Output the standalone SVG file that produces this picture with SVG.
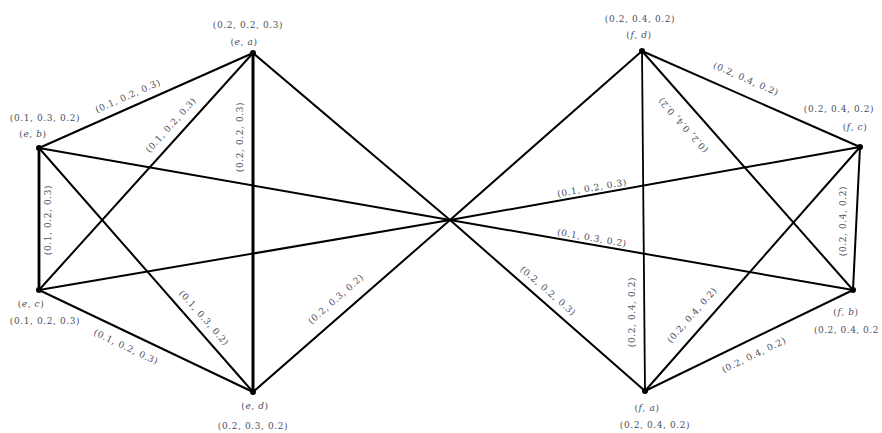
<svg xmlns="http://www.w3.org/2000/svg" width="882" height="433" viewBox="0 0 882 433">
<style>
.e{stroke:#000;stroke-width:2;fill:none;stroke-linejoin:round}
.t{font-family:"DejaVu Serif","Liberation Serif",serif;font-size:9px;fill:#4d4d5c;letter-spacing:0.6px;text-anchor:middle}
.i{font-style:italic}
.d{fill:#000}
</style>
<rect width="882" height="433" fill="#fff"/>
<g id="connectors">
<path class="e" d="M253,53 L39,148"/>
<path class="e" d="M253,53 L39,290"/>
<path class="e" d="M253,53 L253,392" style="stroke-width:3"/>
<path class="e" d="M39,148 L39,290" style="stroke-width:2.8"/>
<path class="e" d="M39,148 L253,392"/>
<path class="e" d="M39,290 L253,392"/>
<path class="e" d="M253,53 L450,220 L645,391"/>
<path class="e" d="M39,148 L450,220 L853,290"/>
<path class="e" d="M39,290 L450,220 L860,147"/>
<path class="e" d="M253,392 L450,220 L642,51"/>
<path class="e" d="M642,51 L860,147"/>
<path class="e" d="M642,51 L645,391" style="stroke-width:1.8"/>
<path class="e" d="M642,51 L853,290"/>
<path class="e" d="M860,147 L853,290"/>
<path class="e" d="M860,147 L645,391"/>
<path class="e" d="M645,391 L853,290"/>
<text class="t" transform="translate(128,96) rotate(-23.9)" y="3">(0.1, 0.2, 0.3)</text>
<text class="t" transform="translate(171,125) rotate(-47.9)" y="3">(0.1, 0.2, 0.3)</text>
<text class="t" transform="translate(240,137) rotate(-90)" y="3">(0.2, 0.2, 0.3)</text>
<text class="t" transform="translate(48,220) rotate(-90)" y="3">(0.1, 0.2, 0.3)</text>
<text class="t" transform="translate(204,318) rotate(48.7)" y="3">(0.1, 0.3, 0.2)</text>
<text class="t" transform="translate(126,347) rotate(25.5)" y="3">(0.1, 0.2, 0.3)</text>
<text class="t" transform="translate(336,299) rotate(-41.2)" y="3">(0.2, 0.3, 0.2)</text>
<text class="t" transform="translate(592,188) rotate(-9.9)" y="3">(0.1, 0.2, 0.3)</text>
<text class="t" transform="translate(592,238) rotate(9.9)" y="3">(0.1, 0.3, 0.2)</text>
<text class="t" transform="translate(548,291) rotate(40.8)" y="3">(0.2, 0.2, 0.3)</text>
<text class="t" transform="translate(746,79) rotate(23.8)" y="3">(0.2, 0.4, 0.2)</text>
<text class="t" transform="translate(683,125) rotate(228.6)" y="3">(0.2, 0.4, 0.2)</text>
<text class="t" transform="translate(843,221) rotate(-90)" y="3">(0.2, 0.4, 0.2)</text>
<text class="t" transform="translate(632,312) rotate(-90)" y="3">(0.2, 0.4, 0.2)</text>
<text class="t" transform="translate(692,315) rotate(-48.6)" y="3">(0.2, 0.4, 0.2)</text>
<text class="t" transform="translate(754,355) rotate(-25.9)" y="3">(0.2, 0.4, 0.2)</text>
</g>
<g id="node-ea">
<circle class="d" cx="253" cy="53" r="3"/>
<text class="t" x="248" y="28">(0.2, 0.2, 0.3)</text>
<text class="t" x="244" y="45">(<tspan class="i">e</tspan>, <tspan class="i">a</tspan>)</text>
</g>
<g id="node-eb">
<circle class="d" cx="39" cy="148" r="3"/>
<text class="t" x="45" y="121">(0.1, 0.3, 0.2)</text>
<text class="t" x="33" y="137">(<tspan class="i">e</tspan>, <tspan class="i">b</tspan>)</text>
</g>
<g id="node-ec">
<circle class="d" cx="39" cy="290" r="3"/>
<text class="t" x="31" y="307">(<tspan class="i">e</tspan>, <tspan class="i">c</tspan>)</text>
<text class="t" x="45" y="324">(0.1, 0.2, 0.3)</text>
</g>
<g id="node-ed">
<circle class="d" cx="253" cy="392" r="3"/>
<text class="t" x="255" y="409">(<tspan class="i">e</tspan>, <tspan class="i">d</tspan>)</text>
<text class="t" x="253" y="429">(0.2, 0.3, 0.2)</text>
</g>
<g id="node-fd">
<circle class="d" cx="642" cy="51" r="3"/>
<text class="t" x="640" y="22">(0.2, 0.4, 0.2)</text>
<text class="t" x="639" y="38">(<tspan class="i">f</tspan>, <tspan class="i">d</tspan>)</text>
</g>
<g id="node-fc">
<circle class="d" cx="860" cy="147" r="3"/>
<text class="t" x="839" y="112">(0.2, 0.4, 0.2)</text>
<text class="t" x="855" y="130">(<tspan class="i">f</tspan>, <tspan class="i">c</tspan>)</text>
</g>
<g id="node-fb">
<circle class="d" cx="853" cy="290" r="3"/>
<text class="t" x="846" y="315">(<tspan class="i">f</tspan>, <tspan class="i">b</tspan>)</text>
<text class="t" x="814" y="333" style="text-anchor:start;letter-spacing:0.5px">(0.2, 0.4, 0.2</text>
</g>
<g id="node-fa">
<circle class="d" cx="645" cy="391" r="3"/>
<text class="t" x="647" y="411">(<tspan class="i">f</tspan>, <tspan class="i">a</tspan>)</text>
<text class="t" x="655" y="428">(0.2, 0.4, 0.2)</text>
</g>
</svg>
